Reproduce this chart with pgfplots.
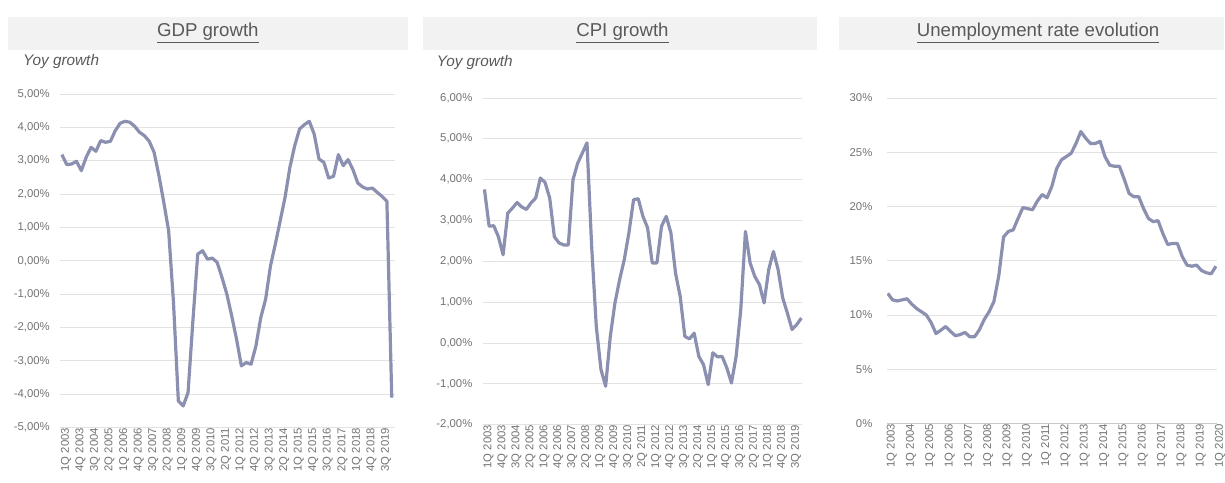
\documentclass[border=0pt]{standalone}
\usepackage{pgfplots}
\pgfplotsset{compat=1.18}
\usepackage{pgfplotstable}
\usepackage{fontspec}
\setmainfont{Liberation Sans}
\definecolor{lineC}{RGB}{140,144,176}
\definecolor{gridC}{RGB}{226,226,226}
\definecolor{baseC}{RGB}{200,200,200}
\definecolor{tickC}{RGB}{115,115,115}
\definecolor{titleC}{RGB}{89,89,89}
\definecolor{boxC}{RGB}{242,242,242}

\pgfplotstableread{
i v
0 3.18
1 2.88
2 2.90
3 2.98
4 2.70
5 3.10
6 3.40
7 3.28
8 3.60
9 3.55
10 3.58
11 3.90
12 4.12
13 4.18
14 4.15
15 4.03
16 3.85
17 3.75
18 3.58
19 3.25
20 2.55
21 1.75
22 0.90
23 -1.25
24 -4.20
25 -4.35
26 -3.95
27 -1.80
28 0.20
29 0.30
30 0.05
31 0.08
32 -0.05
33 -0.50
34 -1.00
35 -1.65
36 -2.35
37 -3.15
38 -3.05
39 -3.10
40 -2.55
41 -1.70
42 -1.15
43 -0.15
44 0.50
45 1.20
46 1.90
47 2.80
48 3.45
49 3.95
50 4.08
51 4.18
52 3.80
53 3.05
54 2.95
55 2.48
56 2.53
57 3.18
58 2.85
59 3.03
60 2.73
61 2.33
62 2.21
63 2.15
64 2.18
65 2.05
66 1.93
67 1.78
68 -4.10
}\gdp

\pgfplotstableread{
i v
0 3.76
1 2.86
2 2.87
3 2.60
4 2.16
5 3.18
6 3.30
7 3.44
8 3.33
9 3.27
10 3.43
11 3.55
12 4.04
13 3.93
14 3.55
15 2.60
16 2.45
17 2.40
18 2.40
19 4.00
20 4.40
21 4.65
22 4.90
23 2.37
24 0.40
25 -0.65
26 -1.06
27 0.16
28 0.98
29 1.55
30 2.04
31 2.70
32 3.51
33 3.53
34 3.10
35 2.82
36 1.96
37 1.96
38 2.86
39 3.10
40 2.70
41 1.71
42 1.14
43 0.16
44 0.10
45 0.24
46 -0.33
47 -0.53
48 -1.02
49 -0.24
50 -0.34
51 -0.33
52 -0.61
53 -0.98
54 -0.33
55 0.82
56 2.73
57 1.96
58 1.63
59 1.43
60 0.98
61 1.80
62 2.24
63 1.80
64 1.10
65 0.73
66 0.33
67 0.45
68 0.61
}\cpi

\pgfplotstableread{
i v
0 12.0
1 11.4
2 11.3
3 11.4
4 11.5
5 11.0
6 10.6
7 10.3
8 10.0
9 9.3
10 8.3
11 8.6
12 8.95
13 8.5
14 8.1
15 8.2
16 8.4
17 8.0
18 8.0
19 8.65
20 9.6
21 10.3
22 11.25
23 13.6
24 17.2
25 17.7
26 17.85
27 18.9
28 19.9
29 19.8
30 19.7
31 20.5
32 21.1
33 20.8
34 21.85
35 23.5
36 24.3
37 24.6
38 24.9
39 25.8
40 26.9
41 26.3
42 25.8
43 25.8
44 26.0
45 24.6
46 23.8
47 23.7
48 23.7
49 22.5
50 21.2
51 20.9
52 20.9
53 19.8
54 18.9
55 18.6
56 18.7
57 17.5
58 16.5
59 16.6
60 16.6
61 15.4
62 14.6
63 14.5
64 14.6
65 14.1
66 13.9
67 13.8
68 14.5
}\unemp

\pgfplotsset{panel/.style={
  scale only axis, anchor=south west,
  axis line style={draw=none}, major tick length=0pt,
  ymajorgrids, xmajorgrids=false,
  grid style={gridC, line width=0.6pt},
  tick label style={font=\fontsize{8.5}{9}\selectfont, text=tickC},
  xticklabel style={rotate=90, anchor=east, inner sep=0pt, yshift=-3pt},
  yticklabel style={anchor=east, inner sep=0pt},
}}

\begin{document}
\begin{tikzpicture}[x=0.75pt,y=0.75pt]
\path (0,0) rectangle (1225,483);
% title boxes
\fill[boxC] (8,433) rectangle (408,466);
\fill[boxC] (423,433) rectangle (818,466);
\fill[boxC] (840,433) rectangle (1225,466);
\node[text=titleC, font=\fontsize{14}{16}\selectfont] at (208,449.5) {\underline{GDP growth}};
\node[text=titleC, font=\fontsize{14}{16}\selectfont] at (623,449.5) {\underline{CPI growth}};
\node[text=titleC, font=\fontsize{14}{16}\selectfont] at (1039,449.5) {\underline{Unemployment rate evolution}};
\node[anchor=west, inner sep=0pt, text=titleC, font=\fontsize{11.5}{13}\selectfont\itshape] at (23,421) {Yoy growth};
\node[anchor=west, inner sep=0pt, text=titleC, font=\fontsize{11.5}{13}\selectfont\itshape] at (437,420) {Yoy growth};

% GDP
\begin{axis}[panel, at={(45pt,41.25pt)}, width=251.25pt, height=250.5pt,
  xmin=-0.41, xmax=68.6, ymin=-5, ymax=5,
  ytick={-5,-4,...,5},
  yticklabels={{-5,00\%},{-4,00\%},{-3,00\%},{-2,00\%},{-1,00\%},{0,00\%},{1,00\%},{2,00\%},{3,00\%},{4,00\%},{5,00\%}},
  yticklabel style={xshift=-7.5pt},
  xtick={0,3,...,66},
  xticklabels={1Q 2003,4Q 2003,3Q 2004,2Q 2005,1Q 2006,4Q 2006,3Q 2007,2Q 2008,1Q 2009,4Q 2009,3Q 2010,2Q 2011,1Q 2012,4Q 2012,3Q 2013,2Q 2014,1Q 2015,4Q 2015,3Q 2016,2Q 2017,1Q 2018,4Q 2018,3Q 2019},
]
\addplot[lineC, line width=2.4pt, line join=round] table[x=i, y=v] {\gdp};
\end{axis}

% CPI
\begin{axis}[panel, at={(362.25pt,43.5pt)}, width=240pt, height=245.25pt,
  xmin=-0.4, xmax=68.2, ymin=-2, ymax=6,
  ytick={-2,-1,...,6},
  yticklabels={{-2,00\%},{-1,00\%},{0,00\%},{1,00\%},{2,00\%},{3,00\%},{4,00\%},{5,00\%},{6,00\%}},
  yticklabel style={xshift=-7.5pt},
  xtick={0,3,...,66},
  xticklabels={1Q 2003,4Q 2003,3Q 2004,2Q 2005,1Q 2006,4Q 2006,3Q 2007,2Q 2008,1Q 2009,4Q 2009,3Q 2010,2Q 2011,1Q 2012,4Q 2012,3Q 2013,2Q 2014,1Q 2015,4Q 2015,3Q 2016,2Q 2017,1Q 2018,4Q 2018,3Q 2019},
]
\addplot[lineC, line width=2.4pt, line join=round] table[x=i, y=v] {\cpi};
\end{axis}

% Unemployment
\begin{axis}[panel, at={(666pt,44.25pt)}, width=247.5pt, height=244.5pt,
  xmin=-0.1, xmax=68.2, ymin=0, ymax=30,
  ytick={0,5,...,30},
  yticklabels={0\%,5\%,10\%,15\%,20\%,25\%,30\%},
  yticklabel style={xshift=-11pt},
  xtick={0,4,...,68},
  xticklabels={1Q 2003,1Q 2004,1Q 2005,1Q 2006,1Q 2007,1Q 2008,1Q 2009,1Q 2010,1Q 2011,1Q 2012,1Q 2013,1Q 2014,1Q 2015,1Q 2016,1Q 2017,1Q 2018,1Q 2019,1Q 2020},
]
\draw[baseC, line width=0.8pt] (rel axis cs:0,0) -- (rel axis cs:1,0);
\addplot[lineC, line width=2.4pt, line join=round] table[x=i, y=v] {\unemp};
\end{axis}
\end{tikzpicture}
\end{document}
